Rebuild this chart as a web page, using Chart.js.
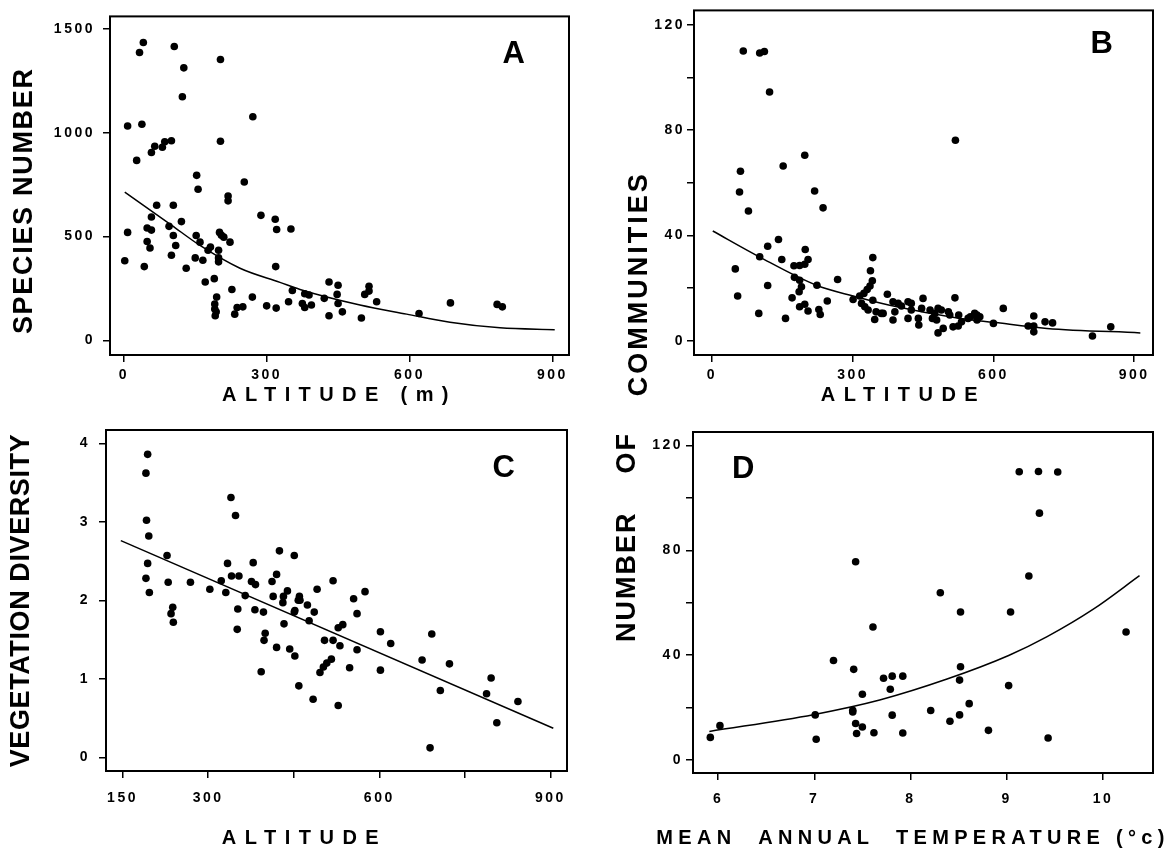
<!DOCTYPE html>
<html>
<head>
<meta charset="utf-8">
<script src="https://cdn.jsdelivr.net/npm/chart.js@4.4.1/dist/chart.umd.min.js"></script>
<style>
  body { margin: 0; background: #fff; }
  #wrap { position: relative; width: 1173px; height: 850px; }
  canvas { position: absolute; }
</style>
</head>
<body>
<div id="wrap">
  <canvas id="panelA" width="590" height="410" style="left:0;top:0"></canvas>
  <canvas id="panelB" width="583" height="410" style="left:590px;top:0"></canvas>
  <canvas id="panelC" width="590" height="440" style="left:0;top:410px"></canvas>
  <canvas id="panelD" width="583" height="440" style="left:590px;top:410px"></canvas>
</div>
<script>
// A - species number vs altitude
const aAlt = [2, 8, 8, 27, 33, 41, 38, 43, 49, 58, 49, 55, 58, 58, 65, 81, 86, 100, 69, 95,
  100, 104, 104, 109, 106, 121, 126, 123, 131, 153, 156, 152, 160, 150, 166, 171, 177, 182, 190, 195,
  191, 191, 192, 194, 199, 199, 199, 203, 203, 201, 205, 210, 223, 219, 219, 227, 233, 238, 250, 253,
  270, 271, 288, 300, 318, 321, 319, 320, 346, 351, 354, 375, 380, 389, 380, 394, 421, 431, 431, 450,
  448, 450, 459, 499, 506, 515, 515, 531, 620, 686, 784, 795];
const aSpecies = [383, 520, 1033, 867, 1387, 1435, 1041, 355, 541, 531, 476, 445, 594, 905, 935, 930, 957, 962, 651, 549,
  410, 651, 505, 457, 1416, 572, 1313, 1174, 347, 795, 728, 505, 473, 397, 386, 281, 434, 449, 297, 208,
  175, 151, 118, 137, 434, 397, 378, 1353, 959, 520, 506, 497, 473, 695, 672, 245, 126, 158, 161, 763,
  208, 1077, 602, 166, 583, 534, 355, 155, 186, 536, 240, 177, 224, 218, 158, 170, 202, 281, 118, 265,
  221, 177, 137, 107, 221, 260, 237, 186, 129, 180, 173, 161];
const aFitX = [2, 100, 160, 244, 328, 370, 496, 594, 685, 790, 905];
const aFitY = [714, 555, 457, 347, 279, 245, 170, 126, 87, 60, 51];
const aXTicks = [0, 300, 600, 900];
const aYTicks = [0, 500, 1000, 1500];

// B - number of communities vs altitude
const bAlt = [67, 102, 112, 123, 61, 59, 78, 50, 55, 102, 100, 119, 119, 142, 152, 149, 157, 171, 175, 187,
  198, 199, 205, 198, 176, 187, 191, 186, 187, 198, 205, 219, 224, 237, 228, 231, 246, 268, 301, 315,
  324, 331, 337, 342, 343, 338, 319, 326, 333, 343, 350, 347, 361, 374, 365, 386, 397, 390, 386, 404,
  418, 425, 425, 418, 440, 441, 450, 447, 465, 475, 479, 470, 482, 489, 504, 507, 482, 493, 518, 519,
  514, 525, 532, 526, 546, 551, 560, 565, 571, 565, 600, 621, 674, 686, 686, 686, 710, 726, 811, 850];
const bComm = [110.1, 109.3, 109.9, 94.5, 64.4, 56.5, 49.3, 27.3, 17, 31.9, 10.4, 35.9, 21, 38.5, 66.4, 30.9, 8.5, 16.3, 28.5, 28.6,
  29.1, 34.7, 30.9, 70.5, 24.1, 23, 20.5, 18.6, 12.9, 13.9, 11.3, 56.9, 21.1, 50.5, 11.9, 10, 15.1, 23.3, 15.7, 17,
  18, 19.5, 20.8, 22.8, 31.6, 26.6, 14.2, 12.9, 11.7, 15.4, 11, 8.1, 10.4, 17.7, 10.4, 14.8, 14.2, 11, 7.9, 13.2,
  14.8, 14.2, 11.7, 8.5, 8.5, 6, 16.1, 12.3, 11.7, 10.4, 7.9, 8.5, 12.3, 11.7, 11, 9.8, 3, 4.7, 16.3, 76.2,
  5.3, 5.6, 7.2, 9.8, 8.5, 9.1, 10.4, 9.8, 9.1, 7.9, 6.6, 12.3, 5.6, 9.4, 5.6, 3.4, 7.2, 6.8, 1.8, 5.3];
const bFitX = [2, 100, 223, 301, 379, 529, 600, 714, 913];
const bFitY = [41.7, 32, 21.1, 17, 13.5, 8.5, 7, 4.7, 3.0];
const bXTicks = [0, 300, 600, 900];
const bYTicks = [0, 20, 40, 60, 80, 100, 120];
const bYLabels = [0, 40, 80, 120];

// C - vegetation diversity vs altitude
const cAlt = [194, 191, 192, 196, 194, 191, 197, 228, 230, 238, 235, 239, 269, 303, 323, 331, 334, 340, 348, 341,
  354, 365, 352, 351, 379, 376, 383, 382, 397, 393, 400, 398, 412, 420, 420, 425, 414, 432, 431, 439,
  433, 443, 451, 452, 452, 459, 458, 451, 461, 460, 474, 477, 486, 491, 484, 504, 519, 519, 528, 536,
  531, 496, 502, 508, 516, 528, 548, 555, 561, 561, 575, 602, 602, 620, 675, 692, 689, 707, 723, 788,
  796, 806, 843];
const cDiv = [3.86, 3.62, 3.02, 2.82, 2.47, 2.28, 2.10, 2.57, 2.23, 1.91, 1.83, 1.72, 2.23, 2.14, 2.25, 2.10, 2.47, 3.31, 3.08, 2.31,
  2.31, 2.06, 1.89, 1.63, 2.48, 2.24, 2.20, 1.88, 1.85, 1.09, 1.58, 1.49, 2.24, 2.33, 1.40, 2.63, 2.05, 2.05, 1.97, 2.12,
  1.70, 1.38, 2.57, 1.87, 1.29, 0.91, 2.00, 1.85, 2.00, 2.05, 1.94, 1.74, 1.85, 2.14, 0.74, 1.49, 2.25, 1.49, 1.65, 1.69,
  1.42, 1.08, 1.15, 1.20, 1.25, 0.66, 1.14, 2.02, 1.83, 1.37, 2.11, 1.60, 1.11, 1.45, 1.24, 1.57, 0.12, 0.85, 1.19, 0.81,
  1.01, 0.44, 0.71];
const cFitX = [147, 905];
const cFitY = [2.76, 0.37];
const cXTicks = [150, 300, 450, 600, 750, 900];
const cXLabels = [150, 300, 600, 900];
const cYTicks = [0, 1, 2, 3, 4];

// D - number of communities vs mean annual temperature
const dTemp = [5.92, 6.02, 7.01, 7.02, 7.20, 7.41, 7.40, 7.40, 7.43, 7.44, 7.50, 7.50, 7.43, 7.61, 7.62, 7.72, 7.81, 7.92, 7.79, 7.81,
  7.92, 8.21, 8.31, 8.41, 8.51, 8.52, 8.51, 8.52, 8.61, 8.81, 9.02, 9.04, 9.13, 9.33, 9.53, 9.34, 9.23, 9.43, 10.24];
const dComm = [8.5, 13.0, 17.1, 7.8, 37.9, 34.5, 18.9, 18.2, 13.8, 10, 12.5, 25, 75.6, 50.7, 10.3, 31.1, 31.9, 31.9, 26.9, 17.0,
  10.2, 18.8, 63.8, 14.7, 17.1, 35.5, 30.4, 56.4, 21.4, 11.2, 28.3, 56.4, 110, 110.1, 109.9, 94.2, 70.2, 8.3, 48.8];
const dFitX = [5.91, 6.99, 7.68, 8.38, 9.02, 9.42, 9.90, 10.38];
const dFitY = [10.8, 17.2, 22.8, 30.8, 39.8, 47, 57.5, 70.3];
const dXTicks = [6, 7, 8, 9, 10];
const dYTicks = [0, 20, 40, 60, 80, 100, 120];
const dYLabels = [0, 40, 80, 120];

const FONT = "'Liberation Sans', Arial, sans-serif";

const toPoints = (xs, ys) => xs.map((x, i) => ({ x, y: ys[i] }));

// letter spacing for ticks and titles, box around the plot, panel letter
const panelStyle = {
  id: 'panelStyle',
  beforeDraw(chart, args, opts) {
    for (const scale of Object.values(chart.scales)) {
      if (scale._styled) continue;
      scale._styled = true;
      const t = opts.titles[scale.id];
      const drawTitle = scale.drawTitle;
      scale.drawTitle = function () {
        const w = t.widen || 0;
        this.ctx.save();
        this.ctx.letterSpacing = t.spacing + 'px';
        this.ctx.translate(t.dx, t.dy);
        // let a wide title run past the plot width instead of being squeezed
        this.left -= w; this.right += w;
        drawTitle.call(this);
        this.left += w; this.right -= w;
        this.ctx.restore();
      };
      const drawLabels = scale.drawLabels;
      scale.drawLabels = function (area) {
        this.ctx.save();
        this.ctx.letterSpacing = '2.5px';
        drawLabels.call(this, area);
        this.ctx.restore();
      };
    }
  },
  afterDraw(chart, args, opts) {
    const { ctx, chartArea: a } = chart;
    ctx.save();
    ctx.strokeStyle = '#000';
    ctx.lineWidth = 2;
    ctx.strokeRect(a.left, a.top, a.right - a.left, a.bottom - a.top);
    ctx.fillStyle = '#000';
    ctx.font = 'bold 31px ' + FONT;
    ctx.textAlign = opts.side;
    const x = opts.side === 'left' ? a.left + opts.dx : a.right - opts.dx;
    ctx.fillText(opts.letter, x, a.top + opts.dy);
    ctx.restore();
  }
};

function axis(ax, horizontal) {
  return {
    type: 'linear',
    position: horizontal ? 'bottom' : 'left',
    min: ax.min,
    max: ax.max,
    afterBuildTicks: s => { s.ticks = ax.ticks.map(v => ({ value: v })); },
    afterFit: s => { if (horizontal) s.height = ax.size; else s.width = ax.size; },
    grid: { drawOnChartArea: false, tickLength: 7, color: '#000', lineWidth: 1.5 },
    border: { display: false },
    ticks: {
      color: '#000',
      font: { family: FONT, size: 14, weight: 'bold' },
      padding: ax.pad,
      maxRotation: 0,
      autoSkip: false,
      callback: v => (ax.labels || ax.ticks).includes(v) ? String(v) : ''
    },
    title: {
      display: true,
      text: ax.title,
      color: '#000',
      align: ax.align || 'center',
      font: { family: FONT, size: horizontal ? 20 : 27, weight: 'bold' },
      padding: horizontal ? { top: 0, bottom: ax.titlePad } : { top: ax.titlePad, bottom: 0 }
    }
  };
}

function panel(id, cfg) {
  return new Chart(document.getElementById(id), {
    type: 'scatter',
    data: {
      datasets: [
        {
          data: toPoints(cfg.xs, cfg.ys),
          backgroundColor: '#000',
          borderWidth: 0,
          pointRadius: 3.8,
          pointHoverRadius: 3.8
        },
        {
          data: toPoints(cfg.fitX, cfg.fitY),
          showLine: true,
          borderColor: '#000',
          borderWidth: 1.5,
          pointRadius: 0,
          cubicInterpolationMode: 'monotone'
        }
      ]
    },
    options: {
      responsive: false,
      animation: false,
      layout: { padding: cfg.padding },
      scales: { x: axis(cfg.x, true), y: axis(cfg.y, false) },
      plugins: {
        legend: { display: false },
        tooltip: { enabled: false },
        panelStyle: cfg.style
      }
    },
    plugins: [panelStyle]
  });
}

panel('panelA', {
  xs: aAlt, ys: aSpecies, fitX: aFitX, fitY: aFitY,
  padding: { top: 10, right: 21, left: 0, bottom: 0 },
  x: { min: -29, max: 935, ticks: aXTicks, size: 55, pad: 5, title: 'ALTITUDE (m)', titlePad: 3 },
  y: { min: -71, max: 1561, ticks: aYTicks, size: 110, pad: 8, title: 'SPECIES NUMBER', titlePad: 8 },
  style: {
    letter: 'A', side: 'right', dx: 44, dy: 47,
    titles: { x: { spacing: 8.4, dx: 0, dy: 0 }, y: { spacing: 1.7, dx: 0, dy: 15 } }
  }
});

panel('panelB', {
  xs: bAlt, ys: bComm, fitX: bFitX, fitY: bFitY,
  padding: { top: 10, right: 20, left: 0, bottom: 0 },
  x: { min: -38, max: 940, ticks: bXTicks, size: 55, pad: 5, title: 'ALTITUDE', titlePad: 3 },
  y: { min: -5.4, max: 125.5, ticks: bYTicks, labels: bYLabels, size: 104, pad: 2, title: 'COMMUNITIES', titlePad: 33 },
  style: {
    letter: 'B', side: 'right', dx: 40, dy: 43,
    titles: { x: { spacing: 8.5, dx: -20, dy: 0 }, y: { spacing: 3, dx: 0, dy: 101 } }
  }
});

panel('panelC', {
  xs: cAlt, ys: cDiv, fitX: cFitX, fitY: cFitY,
  padding: { top: 20, right: 23, left: 0, bottom: 0 },
  x: { min: 121, max: 929, ticks: cXTicks, labels: cXLabels, size: 79, pad: 12, title: 'ALTITUDE', titlePad: 0 },
  y: { min: -0.175, max: 4.17, ticks: cYTicks, size: 106, pad: 9, title: 'VEGETATION DIVERSITY', titlePad: 5 },
  style: {
    letter: 'C', side: 'right', dx: 52, dy: 47,
    titles: { x: { spacing: 8.5, dx: -32, dy: 0 }, y: { spacing: 0.6, dx: 0, dy: 0 } }
  }
});

panel('panelD', {
  xs: dTemp, ys: dComm, fitX: dFitX, fitY: dFitY,
  padding: { top: 22, right: 20, left: 0, bottom: 0 },
  x: { min: 5.74, max: 10.52, ticks: dXTicks, size: 77, pad: 11, title: 'MEAN  ANNUAL  TEMPERATURE (°c)', titlePad: 0 },
  y: { min: -5.1, max: 125.2, ticks: dYTicks, labels: dYLabels, size: 103, pad: 3, title: 'NUMBER    OF', titlePad: 21, align: 'end' },
  style: {
    letter: 'D', side: 'left', dx: 39, dy: 46,
    titles: { x: { spacing: 5.3, dx: -10, dy: 0, widen: 60 }, y: { spacing: 2, dx: 0, dy: 0 } }
  }
});
</script>
</body>
</html>
